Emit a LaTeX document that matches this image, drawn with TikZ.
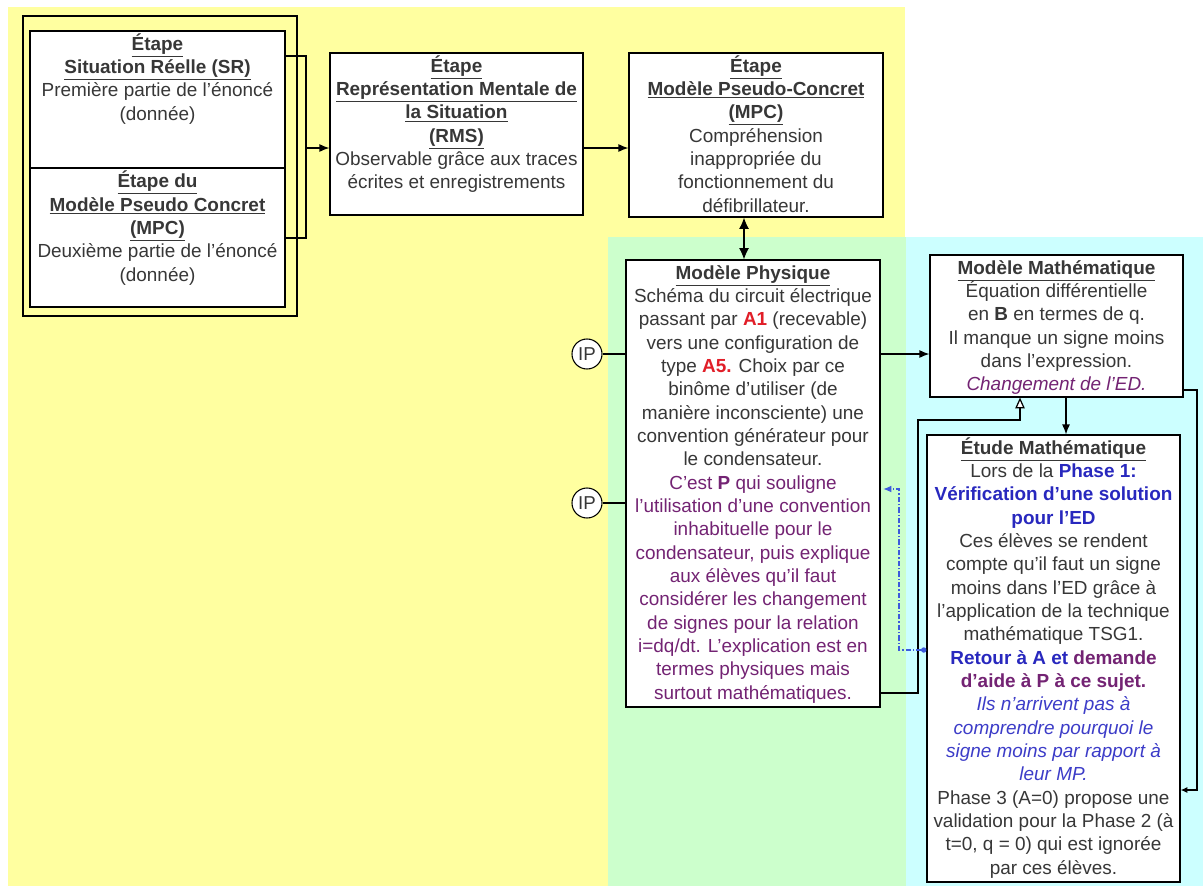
\documentclass[tikz,border=0pt]{standalone}
\usepackage{fontspec}
\setmainfont{Liberation Sans}
\usetikzlibrary{arrows.meta,fit,calc}
\definecolor{ybg}{RGB}{255,255,160}
\definecolor{gbg}{RGB}{204,255,204}
\definecolor{cbg}{RGB}{204,255,255}
\definecolor{tg}{RGB}{55,55,55}
\definecolor{redc}{RGB}{225,30,40}
\definecolor{purp}{RGB}{115,35,115}
\definecolor{blu}{RGB}{40,40,190}
\definecolor{blu2}{RGB}{60,60,200}
\definecolor{dashblue}{RGB}{60,90,220}
\newcommand\firststrut{\rule{0pt}{13.5pt}}
\newcommand\hd[1]{\underline{\textbf{#1}}}
\newcommand\rd[1]{\textcolor{redc}{\textbf{#1}}}
\newcommand\pu[1]{\textcolor{purp}{#1}}
\newcommand\bl[1]{\textcolor{blu}{\textbf{#1}}}
\newcommand\bi[1]{\textcolor{blu2}{\textit{#1}}}
\begin{document}
\begin{tikzpicture}[x=0.75pt,y=-0.75pt,
  box/.style={draw=black,line width=0.9pt,fill=white,inner sep=0pt},
  txt/.style={align=center,font=\fontsize{14.2}{17.5}\selectfont,text=tg,inner sep=0pt,anchor=north},
  ipc/.style={circle,draw=black,fill=white,line width=0.8pt,minimum size=22.5pt,inner sep=0pt,font=\fontsize{14}{14}\selectfont,text=tg},
  conn/.style={line width=0.9pt,draw=black},
  arr/.style={conn,-{Latex[length=7.5pt,width=6pt]}},
  dblarr/.style={conn,{Latex[length=8.5pt,width=7.5pt]}-{Latex[length=8.5pt,width=7.5pt]}},
  openarr/.style={conn,-{Triangle[length=8pt,width=7pt,fill=white]}},
  smallarr/.style={conn,-{Latex[length=5pt,width=4.5pt]}},
  bluedash/.style={draw=dashblue,line width=0.8pt,dash pattern=on 4pt off 1.5pt on 1pt off 1.5pt,{Circle[length=4pt]}-{Latex[length=6pt,width=5pt]},shorten >=2pt}
]
\useasboundingbox (0,0) rectangle (1203,886);
% backgrounds
\fill[ybg] (8,7) rectangle (905,886);
\fill[gbg] (608,237) rectangle (906,886);
\fill[cbg] (906,237) rectangle (1203,886);

% coordinates
\coordinate (d) at (0,168);
\coordinate (br1) at (0,56);
\coordinate (br2) at (306,238);
\coordinate (ay) at (0,148);
\coordinate (ax) at (744,0);
\coordinate (k0) at (0,693);
\coordinate (k1) at (918,420);
\coordinate (k2) at (1020,0);
\coordinate (k3) at (1066,0);
\coordinate (r1) at (0,390);
\coordinate (r2) at (1197,790);
\coordinate (b1) at (0,650);
\coordinate (b2) at (899,489);

% boxes
\node[draw=black,line width=0.9pt,inner sep=0pt,fit={(23,16) (297,316)}] (outer) {};
\node[box,fit={(30,31) (285,307)}] (sr) {};
\node[box,fit={(330,53) (583,215)}] (rms) {};
\node[box,fit={(629,53) (883,217)}] (mpc) {};
\node[box,fit={(626,260) (880,707)}] (phys) {};
\node[box,fit={(930,255) (1183,397)}] (mm) {};
\node[box,fit={(927,435) (1180,882)}] (et) {};
\draw[conn] (sr.west |- d) -- (sr.east |- d);

% texts
\node[txt] (srt1) at ([yshift=-1.1pt]sr.north) {\firststrut\hd{Étape}\\\hd{Situation Réelle (SR)}\\Première partie de l'énoncé\\(donnée)};
\node[txt] (srt2) at ([yshift=-1.1pt]sr.north |- d) {\firststrut\hd{Étape du}\\\hd{Modèle Pseudo Concret}\\\hd{(MPC)}\\Deuxième partie de l'énoncé\\(donnée)};
\node[txt] (rmst) at ([yshift=-1.1pt]rms.north) {\firststrut\hd{Étape}\\\hd{Représentation Mentale de}\\\hd{la Situation}\\\hd{(RMS)}\\Observable grâce aux traces\\écrites et enregistrements};
\node[txt] (mpct) at ([yshift=-1.1pt]mpc.north) {\firststrut\hd{Étape}\\\hd{Modèle Pseudo-Concret}\\\hd{(MPC)}\\Compréhension\\inappropriée du\\fonctionnement du\\défibrillateur.};
\node[txt] (physt) at ([yshift=-1.1pt]phys.north) {\firststrut\hd{Modèle Physique}\\
Schéma du circuit électrique\\
passant par \rd{A1} (recevable)\\
vers une configuration de\\
type \rd{A5.} Choix par ce\\
binôme d'utiliser (de\\
manière inconsciente) une\\
convention générateur pour\\
le condensateur.\\
\pu{C'est \textbf{P} qui souligne}\\
\pu{l'utilisation d'une convention}\\
\pu{inhabituelle pour le}\\
\pu{condensateur, puis explique}\\
\pu{aux élèves qu'il faut}\\
\pu{considérer les changement}\\
\pu{de signes pour la relation}\\
\pu{i=dq/dt. L'explication est en}\\
\pu{termes physiques mais}\\
\pu{surtout mathématiques.}};
\node[txt] (mmt) at ([yshift=-1.1pt]mm.north) {\firststrut\hd{Modèle Mathématique}\\
Équation différentielle\\
en \textbf{B} en termes de q.\\
Il manque un signe moins\\
dans l'expression.\\
\pu{\textit{Changement de l'ED.}}};
\node[txt] (ett) at ([yshift=-1.1pt]et.north) {\firststrut\hd{Étude Mathématique}\\
Lors de la \bl{Phase 1:}\\
\bl{Vérification d'une solution}\\
\bl{pour l'ED}\\
Ces élèves se rendent\\
compte qu'il faut un signe\\
moins dans l'ED grâce à\\
l'application de la technique\\
mathématique TSG1.\\
\bl{Retour à A et} \textcolor{purp}{\textbf{demande}}\\
\textcolor{purp}{\textbf{d'aide à P à ce sujet.}}\\
\bi{Ils n'arrivent pas à}\\
\bi{comprendre pourquoi le}\\
\bi{signe moins par rapport à}\\
\bi{leur MP.}\\
Phase 3 (A=0) propose une\\
validation pour la Phase 2 (à\\
t=0, q = 0) qui est ignorée\\
par ces élèves.};

% IP circles
\node[ipc] (ip1) at (587,354) {IP};
\node[ipc] (ip2) at (587,503) {IP};
\draw[conn] (ip1) -- (phys.west |- ip1);
\draw[conn] (ip2) -- (phys.west |- ip2);

% connectors
\draw[conn] (sr.east |- br1) -| (br2) -- (sr.east |- br2);
\draw[arr] (br2 |- ay) -- (rms.west |- ay);
\draw[arr] (rms.east |- ay) -- (mpc.west |- ay);
\draw[dblarr] (mpc.south -| ax) -- (phys.north -| ax);
\draw[arr] (phys.east |- ip1) -- (mm.west |- ip1);
\draw[openarr] (phys.east |- k0) -| (k1) -| (mm.south -| k2);
\draw[arr] (mm.south -| k3) -- (et.north -| k3);
\draw[smallarr] (mm.east |- r1) -| (r2) -- (et.east |- r2);
\draw[bluedash] (et.west |- b1) -| (b2) -- (phys.east |- b2);
\end{tikzpicture}
\end{document}
